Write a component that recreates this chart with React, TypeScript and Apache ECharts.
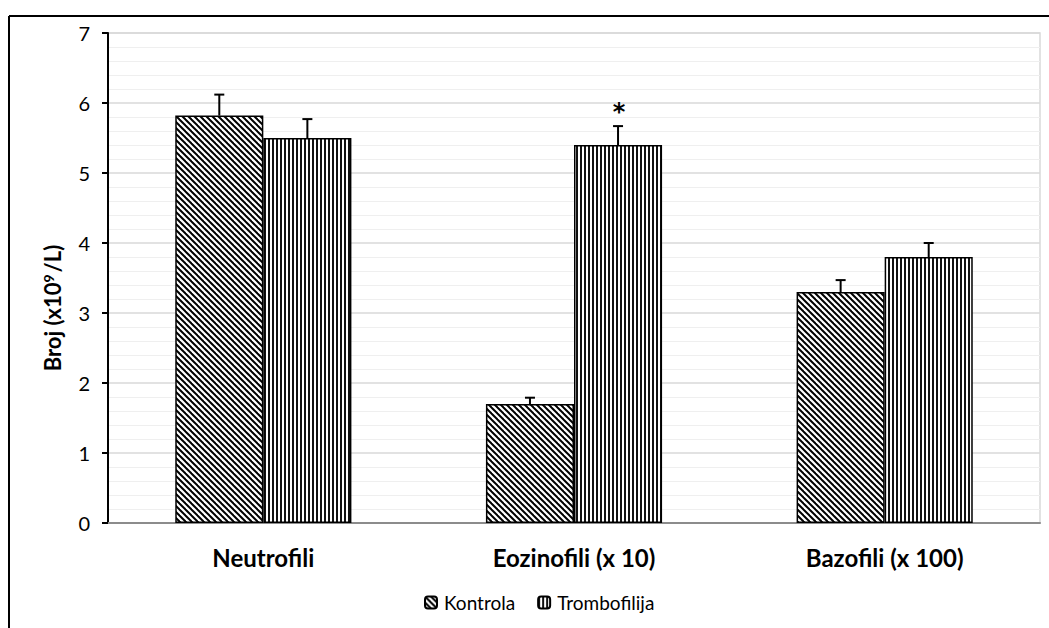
import React, { useEffect, useRef } from "react";
import * as echarts from "echarts";

const categories = ["Neutrofili", "Eozinofili (x 10)", "Bazofili (x 100)"];
const seriesNames = ["Kontrola", "Trombofilija"];
const kontrola = [5.82, 1.7, 3.3];
const kontrolaErr = [0.3, 0.09, 0.17];
const trombofilija = [5.5, 5.4, 3.8];
const trombofilijaErr = [0.27, 0.27, 0.2];
const significance = ["", "*", ""];
const yTicks = [0, 1, 2, 3, 4, 5, 6, 7];
const yTitle = "Broj (x10";
const yTitleSup = "9";
const yTitleEnd = "/L)";

const FONT = "Lato";
const GAP = 0.433;

function makeDiag(): HTMLCanvasElement {
  const c = document.createElement("canvas");
  c.width = 6;
  c.height = 6;
  const ctx = c.getContext("2d")!;
  ctx.fillStyle = "#ffffff";
  ctx.fillRect(0, 0, 6, 6);
  ctx.strokeStyle = "#000000";
  ctx.lineWidth = 2;
  for (const o of [-6, 0, 6]) {
    ctx.beginPath();
    ctx.moveTo(o - 1, -1);
    ctx.lineTo(o + 7, 7);
    ctx.stroke();
  }
  return c;
}

function makeVert(): HTMLCanvasElement {
  const c = document.createElement("canvas");
  c.width = 4;
  c.height = 4;
  const ctx = c.getContext("2d")!;
  ctx.fillStyle = "#ffffff";
  ctx.fillRect(0, 0, 4, 4);
  ctx.fillStyle = "#111111";
  ctx.fillRect(0, 0, 2, 4);
  return c;
}

function errSeries(values: number[], errs: number[], side: number, marks: string[]) {
  return {
    type: "custom",
    name: "err" + side,
    silent: true,
    z: 5,
    data: values.map((v, i) => [i, v, errs[i]]),
    renderItem: (params: any, api: any) => {
      const idx = api.value(0);
      const v = api.value(1);
      const e = api.value(2);
      const catW = api.size([1, 0])[0];
      const barW = (catW * (1 - GAP)) / 2;
      const base = api.coord([idx, v]);
      const top = api.coord([idx, v + e]);
      const x = base[0] + (side * barW) / 2;
      const children: any[] = [
        { type: "line", shape: { x1: x, y1: base[1], x2: x, y2: top[1] }, style: { stroke: "#000", lineWidth: 2 } },
        { type: "line", shape: { x1: x - 5, y1: top[1], x2: x + 5, y2: top[1] }, style: { stroke: "#000", lineWidth: 2 } },
      ];
      const m = marks[idx];
      if (m) {
        children.push({
          type: "text",
          style: { text: m, x: x + 1, y: top[1] - 14, align: "center", verticalAlign: "middle", fontFamily: "DejaVu Sans", fontWeight: "bold", fontSize: 24, fill: "#000" },
        });
      }
      return { type: "group", children };
    },
  };
}

export default function App() {
  const ref = useRef<HTMLDivElement>(null);
  useEffect(() => {
    if (!ref.current) return;
    const chart = echarts.init(ref.current, null, { renderer: "svg" });
    const diag = makeDiag();
    const vert = makeVert();
    chart.setOption({
      animation: false,
      backgroundColor: "#ffffff",
      textStyle: { fontFamily: FONT },
      grid: { left: 108, right: 9, top: 33, bottom: 105, show: true, borderColor: "#d9d9d9", borderWidth: 1.5 },
      legend: {
        data: seriesNames,
        bottom: 11,
        left: 419,
        itemWidth: 12,
        itemHeight: 12,
        itemGap: 22,
        textStyle: { fontFamily: FONT, fontSize: 19, color: "#000", padding: [0, 0, 0, 2] },
      },
      xAxis: {
        type: "category",
        data: categories,
        axisLine: { show: true, lineStyle: { color: "#8c8c8c", width: 2 } },
        axisTick: { show: false },
        axisLabel: { fontFamily: FONT, fontWeight: "bold", fontSize: 24, color: "#000", margin: 22 },
      },
      yAxis: {
        type: "value",
        min: 0,
        max: 7,
        interval: 1,
        axisLine: { show: true, lineStyle: { color: "#000", width: 2 } },
        axisTick: { show: true, length: 6, lineStyle: { color: "#000", width: 2 } },
        axisLabel: { fontFamily: FONT, fontSize: 20, color: "#000", margin: 18, formatter: (v: number) => (yTicks.includes(v) ? String(v) : "") },
        splitLine: { show: true, lineStyle: { color: "#d9d9d9", width: 1.5 } },
        minorTick: { show: false, splitNumber: 5 },
        minorSplitLine: { show: true, lineStyle: { color: "#efefef", width: 1 } },
      },
      series: [
        {
          name: seriesNames[0],
          type: "bar",
          data: kontrola,
          barGap: "0%",
          barCategoryGap: GAP * 100 + "%",
          itemStyle: { color: { image: diag, repeat: "repeat" }, borderColor: "#000", borderWidth: 1.5 },
        },
        {
          name: seriesNames[1],
          type: "bar",
          data: trombofilija,
          barGap: "0%",
          barCategoryGap: GAP * 100 + "%",
          itemStyle: { color: { image: vert, repeat: "repeat" }, borderColor: "#000", borderWidth: 1.5 },
        },
        errSeries(kontrola, kontrolaErr, -1, ["", "", ""]),
        errSeries(trombofilija, trombofilijaErr, 1, significance),
      ],
      graphic: [
        { type: "line", shape: { x1: 0, y1: 0, x2: 1040, y2: 0 }, x: 9, y: 16, style: { stroke: "#000", lineWidth: 2 } },
        { type: "line", shape: { x1: 0, y1: 0, x2: 0, y2: 612 }, x: 9, y: 16, style: { stroke: "#000", lineWidth: 2 } },
        {
          type: "text",
          x: 52,
          y: 308,
          rotation: Math.PI / 2,
          style: {
            text: "{a|" + yTitle + "}{s|" + yTitleSup + "}{a|" + yTitleEnd + "}",
            align: "center",
            verticalAlign: "middle",
            rich: {
              a: { fontFamily: FONT, fontWeight: "bold", fontSize: 22, fill: "#000", color: "#000" },
              s: { fontFamily: FONT, fontWeight: "bold", fontSize: 14, fill: "#000", color: "#000", verticalAlign: "top", padding: [0, 2, 8, 0] },
            },
          },
        },
      ],
    });
    return () => chart.dispose();
  }, []);
  return <div ref={ref} style={{ position: "fixed", left: 0, top: 0, width: 1049, height: 628 }} />;
}
